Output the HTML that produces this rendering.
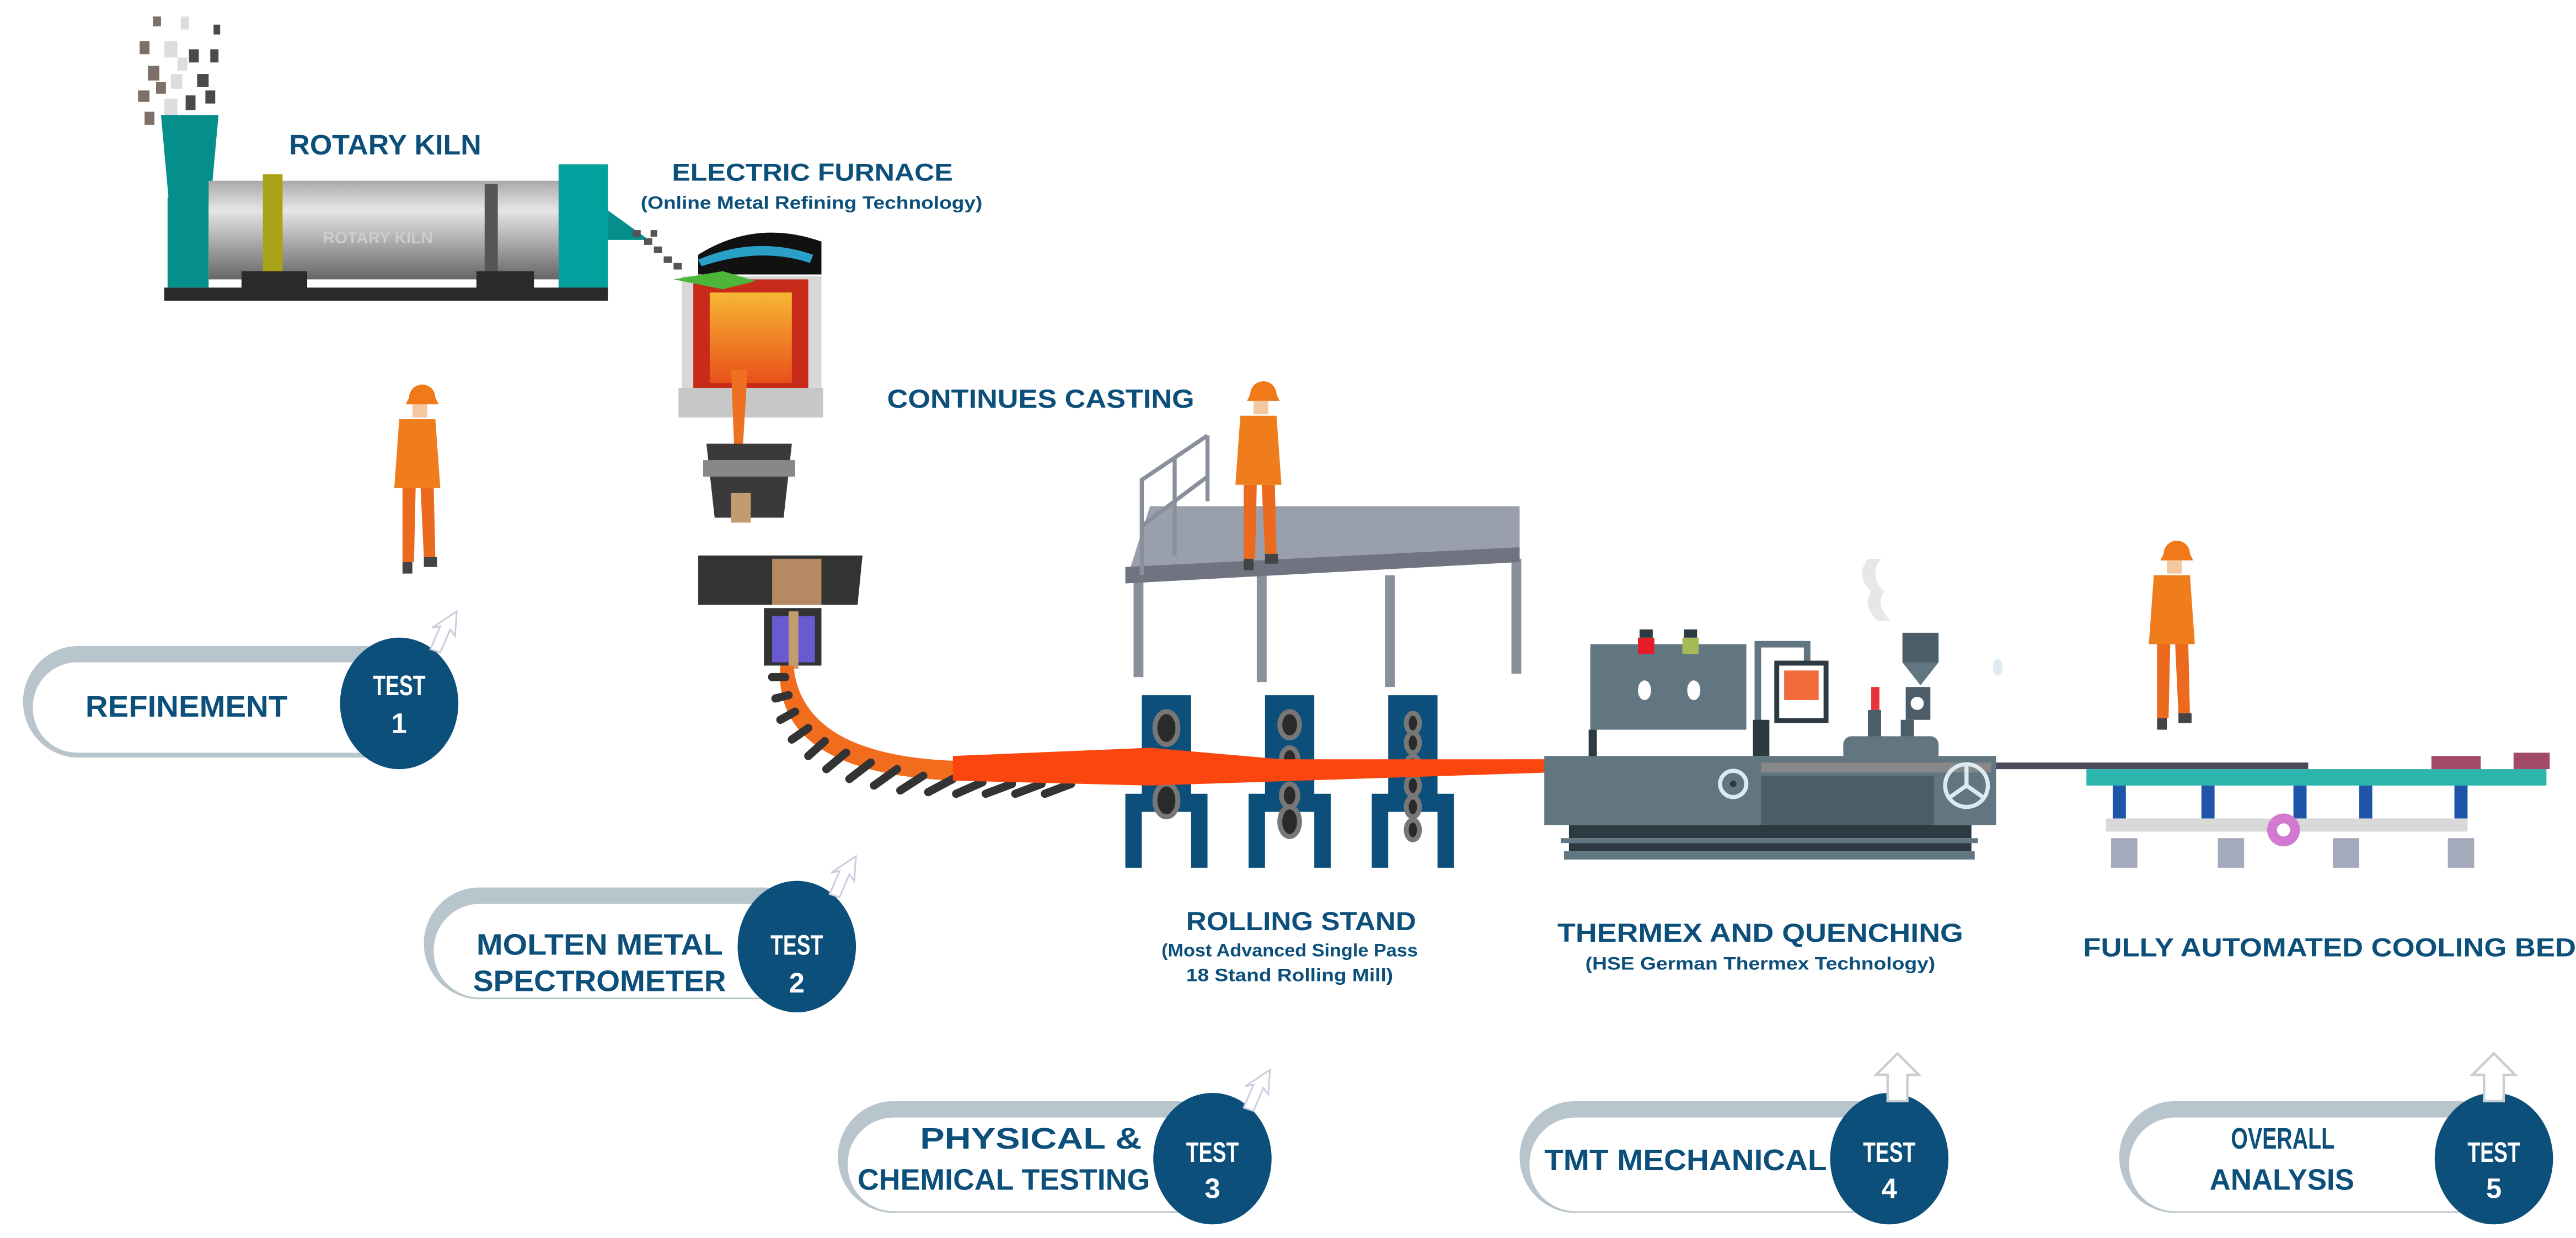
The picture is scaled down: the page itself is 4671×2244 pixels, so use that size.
<!DOCTYPE html>
<html><head><meta charset="utf-8"><style>
html,body{margin:0;padding:0;background:#fff;}
svg{display:block;}
text{font-family:"Liberation Sans",sans-serif;font-weight:bold;}
</style></head><body>
<svg width="4671" height="2244" viewBox="0 0 1568 753.3" preserveAspectRatio="none" xmlns="http://www.w3.org/2000/svg">
<defs>
<linearGradient id="cyl" x1="0" y1="0" x2="0" y2="1"><stop offset="0" stop-color="#a9a9a9"/><stop offset="0.3" stop-color="#e6e6e6"/><stop offset="1" stop-color="#666"/></linearGradient>
<linearGradient id="melt" x1="0" y1="0" x2="0" y2="1"><stop offset="0" stop-color="#f7b733"/><stop offset="1" stop-color="#e8501a"/></linearGradient>
<g id="worker">
 <path d="M-6,-58 a8,8 0 0 1 16,0 l2,4 h-20z" fill="#f07a1a"/>
 <rect x="-4" y="-54" width="9" height="8" fill="#f3c7a0"/>
 <path d="M-12,-45 h22 l3,42 h-28z" fill="#ef7d1c"/>
 <path d="M-10,-3 h8 l-1,45 h-7z M1,-3 h8 l1,42 h-7z" fill="#eb6a1d"/>
 <rect x="-10" y="42" width="6" height="7" fill="#444"/><rect x="3" y="39" width="8" height="6" fill="#444"/>
</g>
<g id="pillarrow">
 <path d="M0,0 l6,-14 l-5,1 l15,-10 l-1,15 l-3,-4 l-6,14z" fill="#fff" stroke="#ccd" stroke-width="1"/>
</g>
<g id="uparrow">
 <path d="M-6,30 v-16 h-7 l13,-13 l13,13 h-7 v16z" fill="#fff" stroke="#c9ced3" stroke-width="1.5"/>
</g>
</defs>

<!-- smoke -->
<g fill="#7d7068">
<rect x="85" y="25" width="6" height="8"/><rect x="90" y="40" width="7" height="9"/><rect x="84" y="55" width="7" height="7"/><rect x="88" y="68" width="6" height="8"/><rect x="93" y="10" width="5" height="6"/><rect x="95" y="50" width="6" height="7"/>
</g>
<g fill="#ddd"><rect x="100" y="25" width="8" height="10"/><rect x="104" y="45" width="7" height="9"/><rect x="100" y="60" width="8" height="10"/><rect x="110" y="10" width="5" height="8"/><rect x="108" y="35" width="6" height="8"/></g>
<g fill="#4a4a4a"><rect x="115" y="30" width="6" height="8"/><rect x="120" y="45" width="7" height="8"/><rect x="113" y="58" width="6" height="9"/><rect x="125" y="55" width="6" height="8"/><rect x="128" y="30" width="5" height="8"/><rect x="130" y="15" width="4" height="6"/></g>

<!-- rotary kiln -->
<path d="M98,70 h35 l-5,55 h-25z" fill="#048f8c"/>
<rect x="102" y="120" width="25" height="55" fill="#048f8c"/>
<rect x="127" y="110" width="220" height="60" fill="url(#cyl)"/>
<rect x="160" y="106" width="12" height="68" fill="#a8a318"/>
<rect x="295" y="112" width="8" height="60" fill="#555"/>
<text x="230" y="148" font-size="10" fill="#ccc" text-anchor="middle">ROTARY KILN</text>
<rect x="340" y="100" width="30" height="80" fill="#04a09d"/>
<path d="M370,128 l25,18 h-25z" fill="#048f8c"/>
<rect x="100" y="175" width="270" height="8" fill="#2a2a2a"/>
<rect x="147" y="165" width="40" height="12" fill="#2a2a2a"/><rect x="290" y="165" width="35" height="12" fill="#2a2a2a"/>
<text x="176" y="94" font-size="17" fill="#0b4f7a" textLength="117" lengthAdjust="spacingAndGlyphs">ROTARY KILN</text>
<g fill="#555"><rect x="385" y="140" width="5" height="4"/><rect x="392" y="145" width="5" height="4"/><rect x="398" y="150" width="5" height="4"/><rect x="404" y="156" width="5" height="4"/><rect x="410" y="160" width="5" height="4"/><rect x="396" y="140" width="4" height="4"/></g>

<!-- electric furnace -->
<text x="409" y="110" font-size="15" fill="#0b4f7a" textLength="171" lengthAdjust="spacingAndGlyphs">ELECTRIC FURNACE</text>
<text x="390" y="127" font-size="11" fill="#0b4f7a" textLength="208" lengthAdjust="spacingAndGlyphs">(Online Metal Refining Technology)</text>
<path d="M425,155 q35,-22 75,-8 v20 h-75z" fill="#111"/>
<path d="M425,158 q35,-15 70,-3 l-2,5 q-30,-10 -66,2z" fill="#2aa0c8"/>
<rect x="415" y="168" width="85" height="75" fill="#d8d8d8"/>
<rect x="422" y="170" width="70" height="70" fill="#c92b1a"/>
<rect x="432" y="178" width="50" height="55" fill="url(#melt)"/>
<path d="M410,170 l30,-5 l20,6 l-20,5z" fill="#4cb63a"/>
<rect x="413" y="236" width="88" height="18" fill="#c7c7c7"/>
<path d="M445,225 h10 l-3,50 h-5z" fill="#ee7020"/>
<path d="M430,270 h52 l-5,45 h-42z" fill="#3a3a3a"/>
<rect x="428" y="280" width="56" height="10" fill="#888"/>
<rect x="445" y="300" width="12" height="18" fill="#c49a70"/>
<path d="M425,338 h100 l-3,30 h-97z" fill="#333"/>
<rect x="470" y="340" width="30" height="28" fill="#b58a62"/>
<rect x="465" y="370" width="35" height="35" fill="#333"/>
<rect x="470" y="375" width="10" height="28" fill="#6a5ad0"/><rect x="486" y="375" width="10" height="28" fill="#6a5ad0"/>
<rect x="480" y="372" width="6" height="35" fill="#c49a70"/>
<path d="M483,405 q5,55 100,58 L945,462 L945,470 L580,475 q-110,-5 -105,-70z" fill="#f26c1e"/>
<g stroke="#333" stroke-width="5" stroke-linecap="round">
<line x1="470" y1="412" x2="478" y2="412"/><line x1="472" y1="425" x2="480" y2="423"/><line x1="475" y1="438" x2="484" y2="433"/><line x1="482" y1="450" x2="492" y2="443"/><line x1="492" y1="460" x2="502" y2="451"/><line x1="503" y1="468" x2="515" y2="458"/><line x1="517" y1="474" x2="530" y2="464"/><line x1="532" y1="478" x2="546" y2="468"/><line x1="548" y1="481" x2="562" y2="472"/><line x1="565" y1="482" x2="580" y2="474"/><line x1="582" y1="483" x2="598" y2="476"/><line x1="600" y1="483" x2="616" y2="477"/><line x1="618" y1="483" x2="634" y2="477"/><line x1="636" y1="483" x2="652" y2="477"/>
</g>

<text x="540" y="248" font-size="16" fill="#0b4f7a" textLength="187" lengthAdjust="spacingAndGlyphs">CONTINUES CASTING</text>

<!-- platform -->
<rect x="690" y="350" width="6" height="62" fill="#8a8f9c"/><rect x="765" y="350" width="6" height="65" fill="#8a8f9c"/><rect x="843" y="350" width="6" height="68" fill="#8a8f9c"/><rect x="920" y="340" width="6" height="70" fill="#8a8f9c"/>
<path d="M700,308 L925,308 L925,342 L685,355z" fill="#9aa0ab"/>
<path d="M685,345 L925,333 L925,342 L685,355z" fill="#6f7480"/>
<g stroke="#8a8f9c" stroke-width="2.5" fill="none"><path d="M695,350 V292 L735,265 M735,265 V305 M695,320 L735,290 M715,338 V278"/></g>
<use href="#worker" x="767" y="298"/>
<use href="#worker" x="255" y="300"/>
<use href="#worker" x="1323" y="395"/>

<!-- rolling stands -->
<g fill="#0b4f7a">
<path d="M695,423 h30 v60 h10 v45 h-10 v-34 h-30 v34 h-10 v-45 h10z"/>
<path d="M770,423 h30 v60 h10 v45 h-10 v-34 h-30 v34 h-10 v-45 h10z"/>
<path d="M845,423 h30 v60 h10 v45 h-10 v-34 h-30 v34 h-10 v-45 h10z"/>
</g>
<g fill="#2a2a2a" stroke="#777" stroke-width="3">
<ellipse cx="710" cy="443" rx="7" ry="10"/><ellipse cx="710" cy="487" rx="7" ry="10"/>
<ellipse cx="785" cy="441" rx="6" ry="8"/><ellipse cx="785" cy="462" rx="5" ry="7"/><ellipse cx="785" cy="484" rx="5" ry="7"/><ellipse cx="785" cy="500" rx="6" ry="9"/>
<ellipse cx="860" cy="440" rx="4" ry="6"/><ellipse cx="860" cy="452" rx="4" ry="6"/><ellipse cx="860" cy="466" rx="4" ry="6"/><ellipse cx="860" cy="478" rx="4" ry="6"/><ellipse cx="860" cy="491" rx="4" ry="6"/><ellipse cx="860" cy="505" rx="4" ry="6"/>
</g>
<path d="M580,460 L700,455 L780,462 L945,462 L945,470 L700,478 L580,475z" fill="#fc4610"/>

<text x="722" y="566" font-size="16" fill="#0b4f7a" textLength="140" lengthAdjust="spacingAndGlyphs">ROLLING STAND</text>
<text x="707" y="582" font-size="11" fill="#0b4f7a" textLength="156" lengthAdjust="spacingAndGlyphs">(Most Advanced Single Pass</text>
<text x="722" y="597" font-size="11" fill="#0b4f7a" textLength="126" lengthAdjust="spacingAndGlyphs">18 Stand Rolling Mill)</text>

<!-- thermex -->
<rect x="968" y="392" width="95" height="52" fill="#627681"/>
<rect x="997" y="388" width="10" height="10" fill="#e21d26"/><rect x="1024" y="388" width="10" height="10" fill="#a7ba55"/>
<rect x="998" y="383" width="8" height="5" fill="#2d3a42"/><rect x="1025" y="383" width="8" height="5" fill="#2d3a42"/>
<ellipse cx="1001" cy="420" rx="4" ry="6" fill="#fff"/><ellipse cx="1031" cy="420" rx="4" ry="6" fill="#fff"/>
<rect x="967" y="444" width="5" height="20" fill="#2d3a42"/>
<path d="M1070,460 V392 h30 v18" stroke="#627681" stroke-width="4" fill="none"/>
<rect x="1067" y="438" width="10" height="22" fill="#2d3a42"/>
<rect x="1080" y="402" width="33" height="38" fill="#2d3a42"/><rect x="1083" y="405" width="27" height="32" fill="#fff"/><rect x="1086" y="408" width="21" height="18" fill="#f26b3a"/>
<rect x="1158" y="385" width="22" height="18" fill="#4a5d68"/><path d="M1158,403 h22 l-11,14z" fill="#627681"/>
<rect x="1160" y="418" width="15" height="20" fill="#4a5d68"/><circle cx="1167" cy="428" r="4" fill="#fff"/>
<path d="M1145,340 q-8,10 2,20 q-6,8 4,18 h-8 q-10,-10 -4,-18 q-10,-10 -2,-20z" fill="#e5e7e9"/>
<ellipse cx="1216" cy="406" rx="3" ry="5" fill="#dcebf2"/>
<rect x="1139" y="418" width="5" height="14" fill="#e8333c"/><rect x="1137" y="432" width="8" height="20" fill="#4a5d68"/><rect x="1157" y="438" width="8" height="16" fill="#4a5d68"/>
<rect x="1122" y="448" width="58" height="16" rx="5" fill="#627681"/>
<rect x="940" y="460" width="275" height="42" fill="#627681"/>
<rect x="1072" y="472" width="105" height="30" fill="#4a5d68"/>
<rect x="1072" y="464" width="140" height="6" fill="#888"/>
<circle cx="1055" cy="477" r="8" fill="none" stroke="#dcebf2" stroke-width="2.5"/><circle cx="1055" cy="477" r="2" fill="#2d3a42"/>
<circle cx="1197" cy="478" r="13" fill="none" stroke="#dcebf2" stroke-width="2.5"/>
<path d="M1197,478 v-12 M1197,478 l-10,7 M1197,478 l10,7" stroke="#dcebf2" stroke-width="2.5"/>
<rect x="955" y="502" width="245" height="8" fill="#2d3a42"/><rect x="950" y="510" width="254" height="3" fill="#627681"/><rect x="955" y="513" width="245" height="5" fill="#2d3a42"/><rect x="952" y="518" width="250" height="5" fill="#627681"/>
<text x="948" y="573" font-size="16" fill="#0b4f7a" textLength="247" lengthAdjust="spacingAndGlyphs">THERMEX AND QUENCHING</text>
<text x="965" y="590" font-size="11" fill="#0b4f7a" textLength="213" lengthAdjust="spacingAndGlyphs">(HSE German Thermex Technology)</text>

<!-- cooling bed -->
<rect x="1215" y="464" width="190" height="4" fill="#4a4a5a"/>
<rect x="1270" y="468" width="280" height="10" fill="#2bb5ac"/>
<rect x="1480" y="460" width="30" height="8" fill="#a14a6a"/><rect x="1530" y="458" width="22" height="10" fill="#a14a6a"/>
<g fill="#1f55a8"><rect x="1286" y="478" width="8" height="20"/><rect x="1340" y="478" width="8" height="20"/><rect x="1396" y="478" width="8" height="20"/><rect x="1494" y="478" width="8" height="20"/><rect x="1436" y="478" width="8" height="20"/></g>
<g fill="#d9d9d9"><rect x="1282" y="498" width="220" height="8"/></g>
<g fill="#a4a9bb"><rect x="1285" y="510" width="16" height="18"/><rect x="1350" y="510" width="16" height="18"/><rect x="1420" y="510" width="16" height="18"/><rect x="1490" y="510" width="16" height="18"/></g>
<circle cx="1390" cy="505" r="10" fill="#d37ad0"/><circle cx="1390" cy="505" r="4" fill="#fff"/>
<text x="1268" y="582" font-size="16" fill="#0b4f7a" textLength="300" lengthAdjust="spacingAndGlyphs">FULLY AUTOMATED COOLING BED</text>

<!-- pills -->
<g>
 <rect x="14" y="393" width="240" height="68" rx="34" fill="#b9c5cc"/>
 <rect x="20" y="403" width="225" height="55" rx="27" fill="#fff"/>
 <ellipse cx="243" cy="428" rx="36" ry="40" fill="#0b4f7a"/>
 <text x="52" y="436" font-size="18" fill="#0b4f7a" textLength="123" lengthAdjust="spacingAndGlyphs">REFINEMENT</text>
 <text x="227" y="423" font-size="17" fill="#fff" textLength="32" lengthAdjust="spacingAndGlyphs">TEST</text>
 <text x="243" y="446" font-size="17" fill="#fff" text-anchor="middle">1</text>
 <use href="#pillarrow" x="262" y="395"/>
</g>
<g>
 <rect x="258" y="540" width="240" height="68" rx="34" fill="#b9c5cc"/>
 <rect x="264" y="550" width="225" height="57" rx="28" fill="#fff"/>
 <ellipse cx="485" cy="576" rx="36" ry="40" fill="#0b4f7a"/>
 <text x="290" y="581" font-size="18" fill="#0b4f7a" textLength="150" lengthAdjust="spacingAndGlyphs">MOLTEN METAL</text>
 <text x="288" y="603" font-size="18" fill="#0b4f7a" textLength="154" lengthAdjust="spacingAndGlyphs">SPECTROMETER</text>
 <text x="469" y="581" font-size="17" fill="#fff" textLength="32" lengthAdjust="spacingAndGlyphs">TEST</text>
 <text x="485" y="604" font-size="17" fill="#fff" text-anchor="middle">2</text>
 <use href="#pillarrow" x="505" y="544"/>
</g>
<g>
 <rect x="510" y="670" width="240" height="68" rx="34" fill="#b9c5cc"/>
 <rect x="516" y="680" width="225" height="57" rx="28" fill="#fff"/>
 <ellipse cx="738" cy="705" rx="36" ry="40" fill="#0b4f7a"/>
 <text x="560" y="699" font-size="18" fill="#0b4f7a" textLength="135" lengthAdjust="spacingAndGlyphs">PHYSICAL &amp;</text>
 <text x="522" y="724" font-size="18" fill="#0b4f7a" textLength="178" lengthAdjust="spacingAndGlyphs">CHEMICAL TESTING</text>
 <text x="722" y="707" font-size="17" fill="#fff" textLength="32" lengthAdjust="spacingAndGlyphs">TEST</text>
 <text x="738" y="729" font-size="17" fill="#fff" text-anchor="middle">3</text>
 <use href="#pillarrow" x="757" y="674"/>
</g>
<g>
 <rect x="925" y="670" width="240" height="68" rx="34" fill="#b9c5cc"/>
 <rect x="931" y="680" width="225" height="57" rx="28" fill="#fff"/>
 <ellipse cx="1150" cy="705" rx="36" ry="40" fill="#0b4f7a"/>
 <text x="940" y="712" font-size="18" fill="#0b4f7a" textLength="172" lengthAdjust="spacingAndGlyphs">TMT MECHANICAL</text>
 <text x="1134" y="707" font-size="17" fill="#fff" textLength="32" lengthAdjust="spacingAndGlyphs">TEST</text>
 <text x="1150" y="729" font-size="17" fill="#fff" text-anchor="middle">4</text>
 <use href="#uparrow" x="1155" y="640"/>
</g>
<g>
 <rect x="1290" y="670" width="240" height="68" rx="34" fill="#b9c5cc"/>
 <rect x="1296" y="680" width="225" height="57" rx="28" fill="#fff"/>
 <ellipse cx="1518" cy="705" rx="36" ry="40" fill="#0b4f7a"/>
 <text x="1358" y="699" font-size="18" fill="#0b4f7a" textLength="63" lengthAdjust="spacingAndGlyphs">OVERALL</text>
 <text x="1345" y="724" font-size="18" fill="#0b4f7a" textLength="88" lengthAdjust="spacingAndGlyphs">ANALYSIS</text>
 <text x="1502" y="707" font-size="17" fill="#fff" textLength="32" lengthAdjust="spacingAndGlyphs">TEST</text>
 <text x="1518" y="729" font-size="17" fill="#fff" text-anchor="middle">5</text>
 <use href="#uparrow" x="1518" y="640"/>
</g>
</svg>
</body></html>
